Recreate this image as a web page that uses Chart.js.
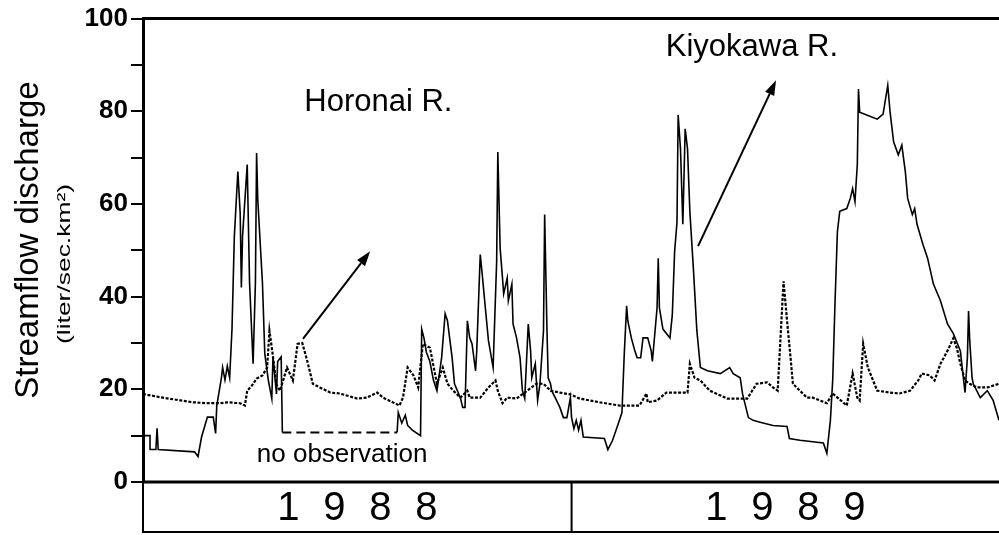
<!DOCTYPE html>
<html>
<head>
<meta charset="utf-8">
<script src="https://cdn.jsdelivr.net/npm/chart.js@4.4.1/dist/chart.umd.min.js"></script>
<style>
  html, body { margin: 0; padding: 0; background: #fff; }
  #wrap { position: relative; width: 999px; height: 535px; }
</style>
</head>
<body>
<div id="wrap"><canvas id="chart"></canvas></div>
<script>
// day index from 1 Jan 1988 (1988 = 366 days, 1989 = 365 days)
const years = ["1988", "1989"];
const yearStarts = [0, 366, 731];
const yTickLabels = ["0", "20", "40", "60", "80", "100"];

// Kiyokawa R. (solid line), null = gap of no observation
const kiyoDays = [0, 6, 6, 11, 12, 13, 44, 47, 50, 55, 60, 62, 63, 67, 68, 70, 72, 74, 76, 78, 81, 83, 84, 85, 89, 91, 94, 96, 97, 98, 102, 104, 107, 110, 111, 114, 115, 118, 119,
  168,
  217, 218, 221, 224, 226, 230, 237, 238, 240, 242, 245, 248, 251, 255, 258, 260, 264, 266, 271, 273, 275, 277, 279, 281, 284, 285, 288, 290, 291, 295, 299, 302, 303, 305, 307, 308, 311, 312, 315, 316, 319, 322, 324, 326, 329, 331, 332, 335, 337, 339, 342, 343, 345, 346, 348, 349, 352, 356, 359, 362, 365, 366, 368, 370, 372, 374, 376, 394, 397, 401, 406, 409, 411, 413, 414, 417, 420, 422, 425, 427, 431, 434, 435, 439, 440, 441, 444, 450, 452, 454, 456, 457, 459, 461, 463, 465, 467, 470, 473, 476, 482, 493, 501, 504, 510, 512, 517, 521, 527, 538, 550, 552, 561, 581, 584, 587, 589, 591, 593, 595, 601, 604, 606, 608, 610, 611, 612, 618, 627, 632, 636, 638, 641, 645, 648, 651, 653, 657, 659, 661, 666, 670, 675, 681, 687, 692, 698, 702, 704, 705, 706, 708, 709, 715, 721, 726, 731];
const kiyoVals = [10, 10, 7, 7, 11.6, 7, 6.5, 5.5, 9.7, 14, 14, 10.5, 16.5, 22.5, 24.7, 22, 25, 22.5, 33, 53, 67, 58, 42, 53, 68.5, 43, 25.5, 43, 71, 61, 43, 27.7, 22, 18, 27, 19, 26, 27, 10.7,
  null,
  10.7, 15, 12.7, 14.4, 12.2, 11.2, 10, 33, 31, 28, 26, 22, 19.7, 26.8, 36.3, 34.8, 26.8, 21.2, 18.2, 16.1, 16.1, 34.8, 31.1, 29.8, 24, 28.3, 49.1, 44, 41.2, 30.5, 24.7, 47.6, 71.2, 50.4, 44, 40.6, 44, 39.1, 42.7, 34.1, 31.1, 26.8, 19.7, 18, 34.1, 28.3, 22.5, 25.5, 17.6, 21.2, 32.6, 57.7, 32.6, 22.5, 21.2, 19.7, 18.2, 16.1, 13.9, 13.9, 18.2, 13.9, 11.5, 13.3, 11.2, 13.3, 9.7, 9.4, 7.0, 9.0, 12.7, 15, 27.7, 38, 34.8, 31.1, 28.3, 26.8, 26.8, 31.1, 31.1, 28.3, 26, 37.6, 48.3, 37.6, 33, 31.1, 36, 49.8, 56, 79.2, 71.9, 55.6, 76.2, 71.9, 58.4, 46.1, 32.6, 24.7, 24, 23.4, 24.7, 23.4, 22.5, 19, 13.9, 13.3, 12.9, 12.2, 12, 9.4, 9.0, 8.4, 6.2, 13.3, 22, 39, 54, 58.4, 59, 61.2, 63.3, 60.5, 68.5, 84.8, 79.8, 79.2, 78.3, 79.4, 85.6, 79.8, 73.4, 70.6, 72.7, 67, 61.2, 57.7, 59, 55.6, 51.3, 48.3, 42.7, 39.1, 34.1, 32, 28.3, 19.3, 26.8, 36.9, 30.5, 22.5, 21.2, 18.2, 19.7, 17.6, 13.3];

// Kiyokawa R. period with no observation (dashed)
const gapDays = [119, 217];
const gapVals = [10.7, 10.7];

// Horonai R. (dotted line)
const horoDays = [0, 6, 17, 32, 43, 55, 66, 72, 83, 87, 89, 93, 97, 102, 106, 108, 110, 114, 117, 123, 128, 132, 136, 140, 145, 151, 160, 168, 183, 191, 200, 205, 219, 222, 226, 231, 235, 239, 245, 251, 256, 260, 265, 271, 277, 279, 288, 295, 301, 303, 307, 311, 319, 328, 336, 342, 348, 356, 365, 373, 390, 407, 424, 430, 431, 439, 447, 456, 465, 467, 471, 476, 484, 499, 516, 524, 533, 538, 542, 547, 550, 553, 555, 567, 572, 584, 589, 601, 606, 610, 612, 615, 619, 627, 638, 646, 655, 662, 665, 672, 676, 681, 687, 692, 695, 698, 702, 706, 712, 721, 731];
const horoVals = [19, 18.7, 18.2, 17.6, 17.2, 17, 17, 17.2, 17, 16.5, 19.7, 20.8, 22.3, 23, 24.7, 32.6, 29, 21, 19.7, 24.7, 21.9, 29.8, 30, 26.4, 21.2, 20.4, 19.3, 19.1, 18, 18.2, 19.3, 18.2, 16.5, 18.2, 24.7, 23, 20.4, 29.8, 29, 21.2, 24.7, 21.2, 19.7, 18.2, 19.7, 18.2, 18.2, 20.4, 21.9, 19.7, 17, 18.2, 18, 19.7, 21.2, 21.2, 19.7, 19.3, 18.9, 18, 17.2, 16.5, 16.5, 19.1, 17.2, 17.6, 19.3, 19.3, 19.3, 25.5, 22.5, 21.9, 19.7, 18, 18, 21.2, 21.5, 20.4, 19.7, 43.3, 34.8, 26.8, 21.2, 18.2, 18.2, 17, 19.1, 16.5, 23.4, 18.2, 17.6, 29.8, 24.7, 19.7, 19.3, 19.1, 19.7, 21.9, 23.4, 23, 21.9, 25.5, 28.3, 31, 28.9, 25.5, 21.9, 21.2, 20.4, 20.4, 21.2];

// text labels and arrows, in data coordinates
const notes = [
  { text: "Horonai R.", day: 201, val: 82, size: 31 },
  { text: "Kiyokawa R.", day: 520, val: 93.8, size: 31 },
  { text: "no observation", day: 170, val: 5.8, size: 26 }
];
const arrows = [
  { from: [136.6, 30.9], to: [194, 49.8] },
  { from: [474, 50.9], to: [540.6, 86.7] }
];

const toPoints = (xs, ys) => xs.map((d, i) => ({ x: d, y: ys[i] }));
const FONT = "'Liberation Sans', Arial, Helvetica, sans-serif";

const overlay = {
  id: "overlay",
  afterDraw(chart) {
    const { ctx, chartArea: a, scales: { x, y } } = chart;
    ctx.save();
    ctx.strokeStyle = "#000";
    ctx.fillStyle = "#000";

    // frame top & bottom axis line
    ctx.lineWidth = 3;
    ctx.beginPath();
    ctx.moveTo(a.left - 1, a.top); ctx.lineTo(a.right, a.top);
    ctx.moveTo(a.left - 1, a.bottom); ctx.lineTo(a.right, a.bottom);
    ctx.stroke();

    // year box under the plot
    const boxBottom = a.bottom + 50;
    ctx.lineWidth = 2;
    ctx.beginPath();
    ctx.moveTo(a.left, a.bottom); ctx.lineTo(a.left, boxBottom);
    ctx.lineTo(a.right, boxBottom);
    const div = x.getPixelForValue(yearStarts[1]);
    ctx.moveTo(div, a.bottom); ctx.lineTo(div, boxBottom);
    ctx.stroke();

    ctx.font = "40px " + FONT;
    ctx.textAlign = "center";
    ctx.textBaseline = "middle";
    years.forEach((yr, i) => {
      const cx = (x.getPixelForValue(yearStarts[i]) + Math.min(x.getPixelForValue(yearStarts[i + 1]), a.right)) / 2;
      const pitch = 46;
      [...yr].forEach((ch, k) => {
        ctx.fillText(ch, cx + (k - 1.5) * pitch, a.bottom + 27);
      });
    });

    // y axis title
    ctx.save();
    ctx.translate(29, 240);
    ctx.rotate(-Math.PI / 2);
    ctx.font = "33px " + FONT;
    ctx.fillText("Streamflow discharge", 0, 0);
    ctx.restore();

    ctx.save();
    ctx.translate(65, 264);
    ctx.rotate(-Math.PI / 2);
    ctx.font = "19px " + FONT;
    const sub = "(liter/sec.km²)";
    const w = ctx.measureText(sub).width;
    ctx.scale(160 / w, 1);
    ctx.fillText(sub, 0, 0);
    ctx.restore();

    // notes
    notes.forEach(n => {
      ctx.font = n.size + "px " + FONT;
      ctx.fillText(n.text, x.getPixelForValue(n.day), y.getPixelForValue(n.val));
    });

    // arrows
    ctx.lineWidth = 2;
    arrows.forEach(ar => {
      const x0 = x.getPixelForValue(ar.from[0]), y0 = y.getPixelForValue(ar.from[1]);
      const x1 = x.getPixelForValue(ar.to[0]), y1 = y.getPixelForValue(ar.to[1]);
      const ang = Math.atan2(y1 - y0, x1 - x0);
      const hl = 15, hw = 5;
      const bx = x1 - hl * Math.cos(ang), by = y1 - hl * Math.sin(ang);
      ctx.beginPath();
      ctx.moveTo(x0, y0); ctx.lineTo(bx, by);
      ctx.stroke();
      ctx.beginPath();
      ctx.moveTo(x1, y1);
      ctx.lineTo(bx + hw * Math.sin(ang), by - hw * Math.cos(ang));
      ctx.lineTo(bx - hw * Math.sin(ang), by + hw * Math.cos(ang));
      ctx.closePath();
      ctx.fill();
    });
    ctx.restore();
  }
};

new Chart(document.getElementById("chart"), {
  type: "line",
  data: {
    datasets: [
      {
        label: "Kiyokawa R.",
        data: toPoints(kiyoDays, kiyoVals),
        borderColor: "#000",
        borderWidth: 1.6,
        pointRadius: 0,
        spanGaps: false
      },
      {
        label: "no observation",
        data: toPoints(gapDays, gapVals),
        borderColor: "#000",
        borderWidth: 2,
        borderDash: [9, 5],
        pointRadius: 0
      },
      {
        label: "Horonai R.",
        data: toPoints(horoDays, horoVals),
        borderColor: "#000",
        borderWidth: 2.2,
        borderDash: [3, 1.6],
        pointRadius: 0
      }
    ]
  },
  options: {
    responsive: true,
    maintainAspectRatio: false,
    animation: false,
    layout: { padding: { top: 16, right: 0, bottom: 53, left: 0 } },
    plugins: {
      legend: { display: false },
      tooltip: { enabled: false }
    },
    scales: {
      x: {
        type: "linear",
        min: yearStarts[0],
        max: yearStarts[2],
        display: false
      },
      y: {
        min: 0,
        max: 100,
        afterFit: (s) => { s.width = 143; },
        ticks: {
          stepSize: 10,
          autoSkip: false,
          color: "#000",
          padding: 3,
          font: { family: FONT, size: 26, weight: "bold" },
          callback: (v) => (v % 20 === 0 ? yTickLabels[v / 20] : "")
        },
        grid: {
          drawOnChartArea: false,
          drawTicks: true,
          tickLength: 12,
          color: "#000",
          lineWidth: 2
        },
        border: { display: true, color: "#000", width: 3 }
      }
    }
  },
  plugins: [overlay]
});
</script>
</body>
</html>
